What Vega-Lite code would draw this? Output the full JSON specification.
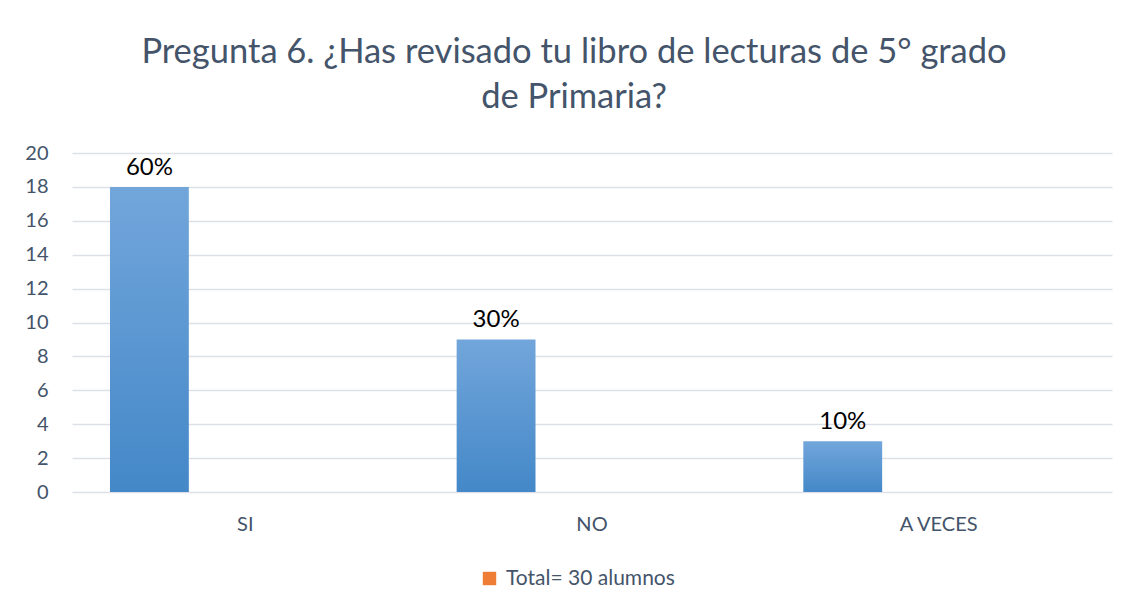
{
  "$schema": "https://vega.github.io/schema/vega-lite/v6.json",
  "autosize": {"type": "none"},
  "width": 1040,
  "height": 339,
  "padding": {"left": 72, "top": 153, "right": 27, "bottom": 118},
  "background": "white",
  "title": {
    "text": ["Pregunta 6. ¿Has revisado tu libro de lecturas de 5° grado", "de Primaria?"],
    "font": "Lato",
    "fontSize": 34.5,
    "fontWeight": "normal",
    "color": "#44546A",
    "anchor": "middle",
    "dx": -18,
    "offset": 28,
    "lineHeight": 45
  },
  "data": {
    "values": [
      {"respuesta": "SI", "alumnos": 18, "pct": "60%"},
      {"respuesta": "NO", "alumnos": 9, "pct": "30%"},
      {"respuesta": "A VECES", "alumnos": 3, "pct": "10%"}
    ]
  },
  "encoding": {
    "x": {
      "field": "respuesta",
      "type": "nominal",
      "sort": ["SI", "NO", "A VECES"],
      "scale": {"paddingInner": 0, "paddingOuter": 0},
      "axis": {
        "title": null,
        "labelAngle": 0,
        "labelFont": "Lato",
        "labelFontSize": 20,
        "labelColor": "#44546A",
        "labelPadding": 22,
        "domain": false,
        "ticks": false,
        "grid": false
      }
    },
    "y": {
      "field": "alumnos",
      "type": "quantitative",
      "scale": {"domain": [0, 20]},
      "axis": {
        "title": null,
        "values": [0, 2, 4, 6, 8, 10, 12, 14, 16, 18, 20],
        "labelOverlap": false,
        "labelFont": "Lato",
        "labelFontSize": 20,
        "labelColor": "#44546A",
        "labelPadding": 24,
        "domain": false,
        "ticks": false,
        "gridColor": "#DDE1E7",
        "gridWidth": 1.5
      }
    }
  },
  "layer": [
    {
      "mark": {
        "type": "bar",
        "fill": {
          "gradient": "linear",
          "x1": 0, "y1": 0, "x2": 0, "y2": 1,
          "stops": [
            {"offset": 0, "color": "#72A6DB"},
            {"offset": 1, "color": "#4488C8"}
          ]
        }
      },
      "encoding": {
        "xOffset": {
          "datum": "Serie1",
          "scale": {"domain": ["Serie1", "Total"], "paddingInner": 0.589, "paddingOuter": 0.198}
        }
      }
    },
    {
      "mark": {"type": "bar"},
      "encoding": {
        "xOffset": {"datum": "Total"},
        "y": {"datum": 0},
        "color": {
          "datum": "Total= 30 alumnos",
          "scale": {"range": ["#EF7D35"]},
          "legend": {
            "title": null,
            "orient": "none",
            "legendX": 407,
            "legendY": 415,
            "symbolType": "square",
            "symbolSize": 180,
            "symbolStrokeWidth": 0,
            "labelFont": "Lato",
            "labelFontSize": 21,
            "labelLimit": 500,
            "labelColor": "#44546A",
            "labelOffset": 6
          }
        }
      }
    },
    {
      "mark": {
        "type": "text",
        "baseline": "bottom",
        "dy": -7,
        "font": "Lato",
        "fontSize": 24,
        "color": "#000000"
      },
      "encoding": {
        "xOffset": {"datum": "Serie1"},
        "text": {"field": "pct"}
      }
    }
  ],
  "config": {
    "view": {"stroke": null}
  }
}
